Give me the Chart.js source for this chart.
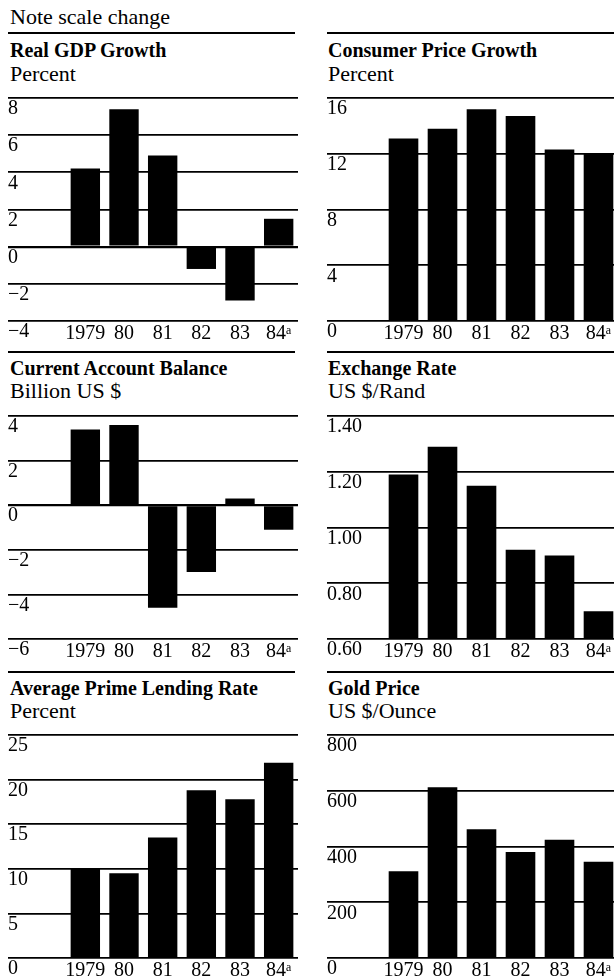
<!DOCTYPE html>
<html>
<head>
<meta charset="utf-8">
<script src="https://cdn.jsdelivr.net/npm/chart.js@4.4.1/dist/chart.umd.min.js"></script>
<style>
  html, body { margin: 0; padding: 0; background: #fff; }
  body { width: 614px; height: 978px; overflow: hidden; position: relative;
         font-family: "Liberation Serif", "Times New Roman", serif; color: #000; }
  .txt { position: absolute; font-size: 22px; line-height: 20px; white-space: nowrap; }
  .b { font-weight: bold; font-size: 20px; }
  .rule { position: absolute; height: 2px; background: #000; }
  canvas { position: absolute; }
</style>
</head>
<body>
<div class="txt" style="left:10px;top:7px">Note scale change</div>

<script>
  // categories
  const years = ['1979', '80', '81', '82', '83', '84\u1D43'];

  // series values
  const gdpGrowth      = [4.2, 7.4, 4.9, -1.2, -2.9, 1.5];
  const cpiGrowth      = [13.1, 13.8, 15.2, 14.7, 12.3, 12.0];
  const currentAccount = [3.4, 3.6, -4.6, -3.0, 0.3, -1.1];
  const exchangeRate   = [1.19, 1.29, 1.15, 0.92, 0.90, 0.70];
  const primeRate      = [10.0, 9.5, 13.5, 18.8, 17.8, 21.9];
  const goldPrice      = [311, 613, 462, 380, 424, 345];

  // tick labels
  const gdpTicks   = [-4, -2, 0, 2, 4, 6, 8];
  const cpiTicks   = [0, 4, 8, 12, 16];
  const caTicks    = [-6, -4, -2, 0, 2, 4];
  const fxTicks    = [0.60, 0.80, 1.00, 1.20, 1.40];
  const primeTicks = [0, 5, 10, 15, 20, 25];
  const goldTicks  = [0, 200, 400, 600, 800];

  const FONT = '"Liberation Serif", "Times New Roman", serif';
  const intFmt = v => String(v).replace('-', '\u2212');
  const fx2 = v => Number(v).toFixed(2);

  // page placement (not data)
  const cols = [{ x: 8, axisW: 58, w: 290, textX: 10 }, { x: 327, axisW: 57, w: 291, textX: 328 }];
  const rows = [
    { rule: 32, title: 40, unit: 64, canvas: 96 },
    { rule: 351, title: 358, unit: 381, canvas: 414 },
    { rule: 671, title: 678, unit: 701, canvas: 733 }
  ];

  const panels = [
    { title: 'Real GDP Growth', unit: 'Percent', values: gdpGrowth, ticks: gdpTicks, fmt: intFmt, col: 0, row: 0 },
    { title: 'Consumer Price Growth', unit: 'Percent', values: cpiGrowth, ticks: cpiTicks, fmt: intFmt, col: 1, row: 0 },
    { title: 'Current Account Balance', unit: 'Billion US $', values: currentAccount, ticks: caTicks, fmt: intFmt, col: 0, row: 1 },
    { title: 'Exchange Rate', unit: 'US $/Rand', values: exchangeRate, ticks: fxTicks, fmt: fx2, col: 1, row: 1 },
    { title: 'Average Prime Lending Rate', unit: 'Percent', values: primeRate, ticks: primeTicks, fmt: intFmt, col: 0, row: 2 },
    { title: 'Gold Price', unit: 'US $/Ounce', values: goldPrice, ticks: goldTicks, fmt: intFmt, col: 1, row: 2 }
  ];

  function addDiv(cls, text, left, top, width) {
    const el = document.createElement('div');
    el.className = cls;
    if (text) el.textContent = text;
    el.style.left = left + 'px';
    el.style.top = top + 'px';
    if (width) el.style.width = width + 'px';
    document.body.appendChild(el);
    return el;
  }

  // no extra room for half-labels at the ends, the plot box is fixed
  function noEndPadding(s) {
    s.paddingTop = 0; s.paddingBottom = 0; s.paddingLeft = 0; s.paddingRight = 0;
  }

  function makePanel(p) {
    const c = cols[p.col], r = rows[p.row];
    addDiv('rule', '', c.x, r.rule, 287);
    addDiv('txt b', p.title, c.textX, r.title);
    addDiv('txt', p.unit, c.textX, r.unit);

    const canvas = document.createElement('canvas');
    canvas.width = c.w;
    canvas.height = 249;
    canvas.style.left = c.x + 'px';
    canvas.style.top = r.canvas + 'px';
    document.body.appendChild(canvas);

    const lo = p.ticks[0], hi = p.ticks[p.ticks.length - 1];
    new Chart(canvas.getContext('2d'), {
      type: 'bar',
      data: {
        labels: years,
        datasets: [{
          data: p.values,
          backgroundColor: '#000',
          borderWidth: 0,
          barPercentage: 0.76,
          categoryPercentage: 1
        }]
      },
      options: {
        responsive: false,
        animation: false,
        layout: { padding: { top: 2, left: 0, right: 0, bottom: 0 } },
        plugins: { legend: { display: false }, tooltip: { enabled: false } },
        scales: {
          x: {
            grid: { display: false, drawTicks: false },
            border: { display: false },
            afterFit: s => { s.height = 24; noEndPadding(s); },
            ticks: { padding: 1, color: '#000', maxRotation: 0, autoSkip: false,
                     font: { family: FONT, size: 20 } }
          },
          y: {
            min: lo,
            max: hi,
            afterBuildTicks: s => { s.ticks = p.ticks.map(v => ({ value: v })); },
            afterFit: s => { s.width = c.axisW; noEndPadding(s); },
            border: { display: false },
            grid: {
              color: '#000',
              lineWidth: ctx => (ctx.tick && ctx.tick.value === 0 && lo < 0) ? 2.2 : 1.7,
              drawTicks: true,
              tickLength: c.axisW
            },
            ticks: {
              crossAlign: 'far',
              padding: 0,
              labelOffset: 11,
              color: '#000',
              font: { family: FONT, size: 20 },
              callback: v => p.fmt(v)
            }
          }
        }
      }
    });
  }

  panels.forEach(makePanel);
</script>
</body>
</html>
